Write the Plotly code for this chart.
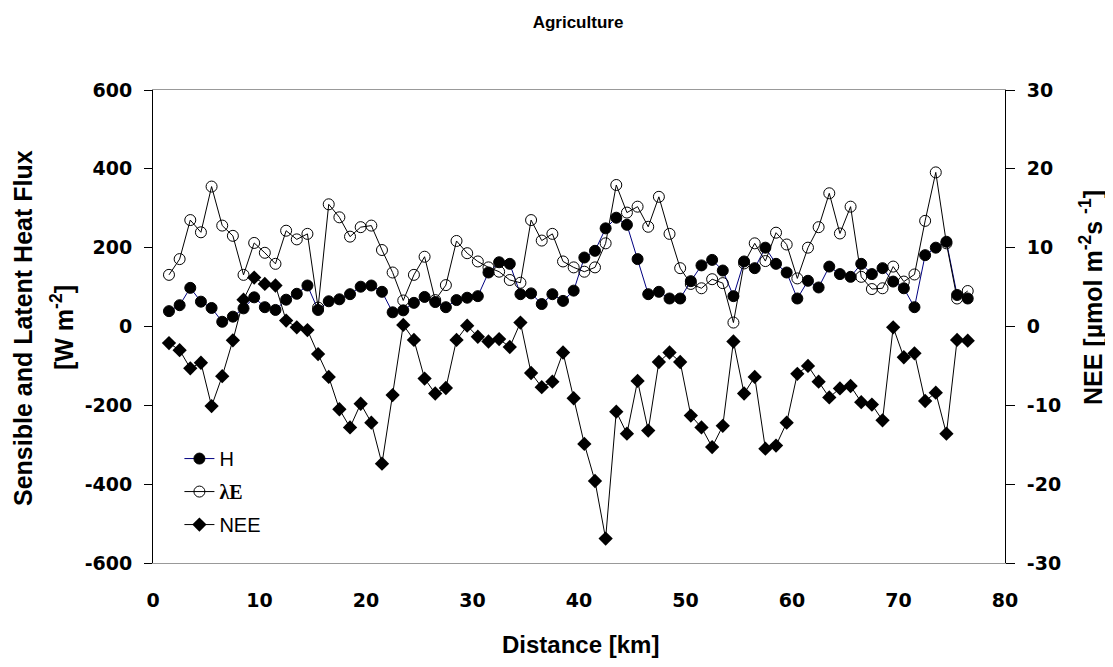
import plotly.graph_objects as go

distance_km = [1.5, 2.5, 3.5, 4.5, 5.5, 6.5, 7.5, 8.5, 9.5, 10.5,
               11.5, 12.5, 13.5, 14.5, 15.5, 16.5, 17.5, 18.5, 19.5, 20.5,
               21.5, 22.5, 23.5, 24.5, 25.5, 26.5, 27.5, 28.5, 29.5, 30.5,
               31.5, 32.5, 33.5, 34.5, 35.5, 36.5, 37.5, 38.5, 39.5, 40.5,
               41.5, 42.5, 43.5, 44.5, 45.5, 46.5, 47.5, 48.5, 49.5, 50.5,
               51.5, 52.5, 53.5, 54.5, 55.5, 56.5, 57.5, 58.5, 59.5, 60.5,
               61.5, 62.5, 63.5, 64.5, 65.5, 66.5, 67.5, 68.5, 69.5, 70.5,
               71.5, 72.5, 73.5, 74.5, 75.5, 76.5]

H = [39, 54, 98, 63, 47, 12, 25, 46, 74, 49,
     42, 68, 83, 104, 42, 64, 69, 82, 101, 104,
     88, 36, 41, 60, 75, 62, 49, 67, 73, 77,
     137, 163, 159, 82, 84, 57, 82, 65, 91, 175,
     192, 249, 276, 258, 171, 82, 88, 71, 71, 115,
     155, 169, 142, 77, 165, 148, 200, 159, 137, 71,
     116, 99, 152, 133, 126, 159, 133, 148, 114, 97,
     49, 181, 200, 215, 80, 71]

LE = [131, 171, 270, 239, 355, 256, 230, 131, 212, 187,
      159, 243, 221, 235, 48, 310, 277, 228, 252, 256,
      194, 137, 66, 131, 177, 67, 105, 217, 186, 165,
      150, 139, 118, 111, 270, 218, 235, 165, 150, 139,
      150, 211, 359, 289, 304, 253, 329, 235, 148, 108,
      97, 120, 110, 10, 160, 211, 166, 238, 208, 122,
      200, 252, 338, 236, 304, 126, 95, 97, 152, 114,
      132, 268, 391, 211, 71, 90]

NEE = [-2.1, -3.0, -5.3, -4.6, -10.1, -6.3, -1.75, 3.4, 6.2, 5.4,
       5.2, 0.75, -0.1, -0.45, -3.5, -6.4, -10.5, -12.8, -9.8, -12.2,
       -17.4, -8.7, 0.2, -1.7, -6.6, -8.5, -7.8, -1.7, 0.1, -1.3,
       -1.9, -1.6, -2.6, 0.5, -5.9, -7.7, -7.0, -3.3, -9.1, -14.9,
       -19.6, -26.9, -10.8, -13.6, -6.9, -13.2, -4.5, -3.3, -4.5, -11.3,
       -12.8, -15.3, -12.6, -1.9, -8.5, -6.4, -15.5, -15.1, -12.2, -6.0,
       -5.0, -7.0, -9.0, -7.85, -7.55, -9.6, -9.9, -11.9, -0.1, -3.9,
       -3.4, -9.45, -8.4, -13.6, -1.7, -1.8]

x_ticks = [0, 10, 20, 30, 40, 50, 60, 70, 80]
left_ticks = [-600, -400, -200, 0, 200, 400, 600]
right_ticks = [-30, -20, -10, 0, 10, 20, 30]

TICKF = "DejaVu Sans, Arial, sans-serif"
ARIAL = "Arial, Liberation Sans, sans-serif"

fig = go.Figure()
fig.add_trace(go.Scatter(
    x=distance_km, y=H, name="H", mode="lines+markers",
    line=dict(color="#000080", width=1),
    marker=dict(symbol="circle", size=11, color="black", line=dict(color="black", width=1)),
    legendgroup="g1", xaxis="x", yaxis="y"))
fig.add_trace(go.Scatter(
    x=distance_km, y=LE,
    name="<span style=\"font-family:'Liberation Serif', 'Times New Roman', serif\"><b>λE</b></span>",
    mode="lines+markers",
    line=dict(color="black", width=1),
    marker=dict(symbol="circle-open", size=11, color="black", line=dict(color="black", width=1)),
    legendgroup="g2", xaxis="x", yaxis="y"))
fig.add_trace(go.Scatter(
    x=distance_km, y=NEE, name="NEE", mode="lines+markers",
    line=dict(color="black", width=1),
    marker=dict(symbol="diamond", size=11, color="black"),
    legendgroup="g3", xaxis="x", yaxis="y2"))

# plot area in figure coords: x 145..997 (852 px), y 82..555 (473 px)
def px(fx):
    return (fx - 145) / 852

def py(fy):
    return (555 - fy) / 473

title_font = dict(size=25, family=ARIAL, color="black")

fig.update_layout(
    width=1113, height=667,
    margin=dict(l=145, r=116, t=82, b=112),
    paper_bgcolor="white", plot_bgcolor="white",
    font=dict(family=TICKF, color="black", size=19),
    title=dict(text="<b>Agriculture</b>", x=570 / 1113, xanchor="center",
               y=1 - 14 / 667, yref="container", yanchor="middle",
               font=dict(size=17, family=ARIAL, color="black")),
    showlegend=True,
    legend=dict(x=0.031, y=0.262, xanchor="left", yanchor="top",
                bgcolor="rgba(0,0,0,0)", font=dict(size=20, family=ARIAL),
                tracegroupgap=4, itemwidth=30),
    xaxis=dict(range=[0, 80], tickvals=x_ticks, ticktext=[f"<b>{v}</b>" for v in x_ticks],
               showgrid=False, zeroline=False, showline=True, linecolor="#999999",
               linewidth=1, mirror=True, ticks="", ticklabelstandoff=20,
               tickfont=dict(size=19, family=TICKF)),
    xaxis2=dict(range=[0, 80], tickvals=x_ticks, overlaying="x", anchor="free", position=0.5,
                side="bottom", showgrid=False, zeroline=False, showline=True,
                linecolor="#808080", linewidth=1, ticks="outside", ticklen=6,
                tickcolor="#606060", showticklabels=False),
    yaxis=dict(range=[-600, 600], tickvals=left_ticks,
               ticktext=[f"<b>{v}</b>" for v in left_ticks],
               showgrid=False, zeroline=False, showline=True, linecolor="black",
               linewidth=1, ticks="outside", ticklen=8, tickcolor="black",
               ticklabelstandoff=8,
               tickfont=dict(size=19, family=TICKF)),
    yaxis2=dict(range=[-30, 30], tickvals=right_ticks,
                ticktext=[f"<b>{v}</b>" for v in right_ticks],
                overlaying="y", side="right", anchor="x",
                showgrid=False, zeroline=False, showline=True, linecolor="black",
                linewidth=1, ticks="outside", ticklen=9, tickcolor="black",
                ticklabelstandoff=8,
                tickfont=dict(size=19, family=TICKF)),
    annotations=[
        dict(text="<b>Sensible and Latent Heat Flux</b>", textangle=-90,
             xref="paper", yref="paper", x=px(15), y=py(320),
             xanchor="center", yanchor="middle", showarrow=False, font=title_font),
        dict(text="<b>[W m<sup>-2</sup>]</b>", textangle=-90,
             xref="paper", yref="paper", x=px(54), y=py(320),
             xanchor="center", yanchor="middle", showarrow=False, font=title_font),
        dict(text="<b>NEE [µmol m<sup>-2</sup>s <sup>-1</sup>]</b>", textangle=-90,
             xref="paper", yref="paper", x=px(1083), y=py(290),
             xanchor="center", yanchor="middle", showarrow=False, font=title_font),
        dict(text="<b>Distance [km]</b>",
             xref="paper", yref="paper", x=px(572), y=py(636),
             xanchor="center", yanchor="middle", showarrow=False,
             font=dict(size=24, family=ARIAL, color="black")),
    ],
)

fig.write_html("out.html")
